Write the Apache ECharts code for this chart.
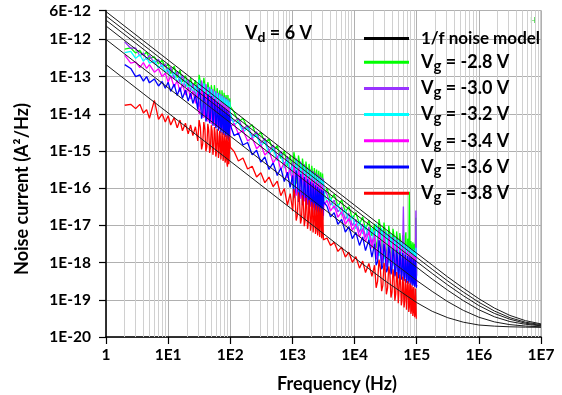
<!DOCTYPE html>
<html><head><meta charset="utf-8">
<script src="https://cdn.jsdelivr.net/npm/echarts@6/dist/echarts.min.js"></script>
<style>html,body{margin:0;padding:0;background:#fff}#c{width:562px;height:395px}</style>
</head><body><div id="c"></div>
<script>
// ---- data ----
const freq = [2, 2.5, 3, 3.5, 4, 4.5, 5, 6, 7, 8, 9, 10, 11, 12.5, 14, 15.5, 17, 19, 21, 23, 25, 27.5,
  30, 31.5, 33, 34.5, 36, 37.5, 39, 40.5, 42, 43.5, 45, 46.5, 48, 49.5, 51, 52.5, 54, 55.5, 57, 58.5, 60, 61.5, 63, 64.5, 66, 67.5, 69, 70.5, 72, 73.5, 75, 76.5, 78, 79.5, 81, 82.5, 84, 85.5, 87, 88.5, 90, 91.5, 93, 94.5, 96, 98, 100,
  115, 135, 160, 190, 225, 265, 310, 360, 420, 490, 570, 650, 740, 830, 920,
  1010, 1055, 1100, 1150, 1200, 1250, 1300, 1350, 1400, 1450, 1500, 1550, 1600, 1650, 1700, 1750, 1800, 1850, 1900, 1950, 2000, 2050, 2100, 2150, 2200, 2250, 2300, 2350, 2400, 2450, 2500, 2550, 2600, 2650, 2700, 2750, 2800, 2850, 2900, 2950, 3000, 3050, 3100, 3150, 3200,
  3600, 4100, 4700, 5400, 6200, 7100, 8100, 9200, 10500, 12000, 13500, 15000, 17000, 19000,
  21000, 22250, 23500, 24750, 26000, 27250, 28500, 29750, 31000, 32500, 34000, 35500, 37000, 38500, 40000, 41500, 43000, 44500, 46000, 47500, 49000, 50500, 52000, 53500, 55000, 56500, 58000, 59500, 61000, 62500, 64000, 65500, 67000, 68500, 70000, 71500, 73000, 74500, 76000, 77500, 79000, 80500, 82000, 83500, 85000, 86500, 88000, 89500, 91000, 92500, 94000, 95500, 97000, 98500, 100000];

const vgM28 = [5.5e-13, 5.9e-13, 4.3e-13, 5.1e-13, 3.7e-13, 4.6e-13, 3.1e-13, 3.4e-13, 2.2e-13, 2.75e-13, 1.8e-13, 2.2e-13, 1.2e-13, 1.9e-13, 9.5e-14, 1.5e-13, 7.2e-14, 1.07e-13, 5.5e-14, 9.1e-14, 5.0e-14, 7.9e-14,
  3.2e-14, 1.12e-13, 7.1e-14, 1.74e-14, 2.6e-14, 9.3e-14, 5.8e-14, 1.45e-14, 2.0e-14, 7.1e-14, 5.0e-14, 1.1e-14, 1.6e-14, 5.9e-14, 4.0e-14, 1.0e-14, 1.3e-14, 5.9e-14, 3.6e-14, 9.3e-15, 1.3e-14, 4.9e-14, 3.5e-14, 7.8e-15, 1.15e-14, 4.3e-14, 2.9e-14, 7.4e-15, 9.8e-15, 4.3e-14, 2.8e-14, 7.1e-15, 1.0e-14, 3.7e-14, 2.7e-14, 5.9e-15, 8.3e-15, 3.2e-14, 2.2e-14, 5.6e-15, 7.9e-15, 3.2e-14, 2.2e-14, 5.4e-15, 7.6e-15, 2.6e-14, 1.6e-14,
  1.12e-14, 6.0e-15, 7.6e-15, 4.1e-15, 5.1e-15, 2.5e-15, 3.2e-15, 1.7e-15, 2.1e-15, 1.0e-15, 1.4e-15, 6.3e-16, 1.02e-15, 4.0e-16, 7.6e-16,
  2.5e-16, 9.3e-16, 6.3e-16, 1.32e-16, 1.9e-16, 7.6e-16, 5.1e-16, 1.1e-16, 1.5e-16, 6.3e-16, 4.0e-16, 9.1e-17, 1.23e-16, 5.2e-16, 3.5e-16, 7.6e-17, 1.12e-16, 4.5e-16, 3.0e-16, 6.8e-17, 9.3e-17, 4.0e-16, 2.6e-16, 6.0e-17, 8.9e-17, 3.5e-16, 2.5e-16, 5.4e-17, 8.3e-17, 3.2e-16, 2.1e-16, 4.9e-17, 6.8e-17, 2.95e-16, 2.0e-16, 4.5e-17, 6.6e-17, 2.7e-16, 1.66e-16, 4.1e-17, 5.8e-17, 2.5e-16, 1.6e-16, 3.8e-17, 6.6e-17,
  9.8e-17, 4.9e-17, 6.8e-17, 3.3e-17, 4.8e-17, 2.3e-17, 3.2e-17, 1.55e-17, 2.2e-17, 1.07e-17, 1.7e-17, 7.8e-18, 1.38e-17, 5.2e-18,
  1.1e-17, 2.45e-18, 3.8e-18, 1.48e-17, 8.9e-18, 1.9e-18, 3.0e-18, 1.2e-17, 7.2e-18, 1.55e-18, 2.3e-18, 9.8e-18, 5.6e-18, 1.3e-18, 1.95e-18, 8.1e-18, 5.2e-18, 1.1e-18, 1.74e-18, 6.9e-18, 4.3e-18, 9.3e-19, 1.45e-18, 6.2e-18, 4.0e-18, 8.3e-19, 1.35e-18, 5.4e-18, 3.5e-18, 7.4e-19, 1.15e-18, 4.9e-18, 6.5e-18, 6.8e-19, 1.1e-18, 4.4e-18, 3.2e-18, 6.0e-19, 8.0e-17, 4.0e-18, 9.3e-19, 3.8e-18, 2.9e-18, 5.4e-19, 7.8e-19, 3.5e-18, 3.0e-18, 4.9e-19, 7.1e-19, 3.2e-18, 2.5e-18, 4.6e-19, 1.6e-17, 4.4e-19, 7.1e-19];

const vgM30 = [8.7e-13, 5.8e-13, 5.9e-13, 3.6e-13, 4.3e-13, 2.9e-13, 3.7e-13, 2.3e-13, 2.9e-13, 1.8e-13, 2.2e-13, 1.26e-13, 1.8e-13, 8.9e-14, 1.4e-13, 7.1e-14, 1.12e-13, 5.2e-14, 8.3e-14, 4.0e-14, 6.6e-14, 3.0e-14,
  6.3e-14, 1.55e-14, 2.2e-14, 7.9e-14, 5.0e-14, 1.23e-14, 1.66e-14, 6.3e-14, 4.2e-14, 9.8e-15, 1.4e-14, 5.2e-14, 3.5e-14, 8.5e-15, 1.2e-14, 4.6e-14, 2.95e-14, 7.4e-15, 1.0e-14, 4.1e-14, 2.75e-14, 6.8e-15, 1.0e-14, 3.7e-14, 2.6e-14, 6.2e-15, 8.7e-15, 3.4e-14, 2.2e-14, 5.6e-15, 7.6e-15, 3.1e-14, 2.1e-14, 5.1e-15, 7.6e-15, 2.8e-14, 2.0e-14, 4.7e-15, 6.6e-15, 2.6e-14, 1.66e-14, 4.3e-15, 5.8e-15, 2.3e-14, 1.5e-14, 3.9e-15, 7.1e-15,
  6.2e-15, 7.6e-15, 3.8e-15, 4.9e-15, 2.45e-15, 3.3e-15, 1.6e-15, 2.2e-15, 1.02e-15, 1.45e-15, 6.5e-16, 1.0e-15, 4.1e-16, 7.2e-16, 2.75e-16,
  5.0e-16, 1.12e-16, 1.7e-16, 6.3e-16, 4.4e-16, 9.1e-17, 1.35e-16, 5.2e-16, 3.6e-16, 7.6e-17, 1.07e-16, 4.4e-16, 2.8e-16, 6.3e-17, 8.7e-17, 3.6e-16, 2.8e-16, 5.4e-17, 7.9e-17, 3.2e-16, 2.2e-16, 4.8e-17, 6.9e-17, 2.9e-16, 1.8e-16, 4.3e-17, 5.8e-17, 2.6e-16, 1.7e-16, 3.9e-17, 5.6e-17, 2.35e-16, 1.55e-16, 3.5e-17, 4.8e-17, 2.1e-16, 1.32e-16, 3.2e-17, 4.6e-17, 1.95e-16, 1.23e-16, 3.0e-17, 4.4e-17, 1.8e-16, 9.3e-17,
  6.9e-17, 3.5e-17, 4.8e-17, 2.3e-17, 3.1e-17, 1.45e-17, 2.1e-17, 9.8e-18, 1.45e-17, 6.5e-18, 1.1e-17, 4.8e-18, 9.1e-18, 3.2e-18,
  6.9e-18, 1.62e-18, 2.3e-18, 8.9e-18, 5.4e-18, 1.26e-18, 1.8e-18, 7.2e-18, 4.6e-18, 1.02e-18, 1.55e-18, 5.9e-18, 3.9e-18, 8.5e-19, 1.3e-18, 4.9e-18, 3.2e-18, 7.2e-19, 1.05e-18, 4.2e-18, 2.9e-18, 6.2e-19, 9.5e-19, 3.7e-18, 2.4e-18, 5.5e-19, 8.1e-19, 3.2e-18, 3.2e-17, 2.8e-18, 7.6e-19, 2.95e-18, 2.0e-18, 4.5e-19, 6.6e-19, 2.6e-18, 1.8e-18, 4.0e-19, 6.2e-19, 2.4e-18, 1.66e-18, 3.6e-19, 5.5e-19, 2.2e-18, 1.38e-18, 3.4e-19, 5.0e-19, 2.0e-18, 1.4e-18, 3.1e-19, 4.9e-19, 1.9e-18, 2.5e-17, 1.8e-18, 4.5e-19];

const vgM32 = [4.4e-13, 4.8e-13, 3.1e-13, 3.9e-13, 2.6e-13, 3.3e-13, 2.3e-13, 2.7e-13, 1.7e-13, 2.1e-13, 1.3e-13, 1.66e-13, 9.3e-14, 1.35e-13, 6.8e-14, 1.07e-13, 5.2e-14, 8.3e-14, 4.3e-14, 6.9e-14, 3.5e-14, 5.8e-14,
  2.45e-14, 8.3e-14, 5.2e-14, 1.3e-14, 1.86e-14, 6.6e-14, 4.1e-14, 1.02e-14, 1.4e-14, 5.2e-14, 3.5e-14, 8.5e-15, 1.26e-14, 4.6e-14, 3.2e-14, 7.4e-15, 1.05e-14, 4.0e-14, 2.6e-14, 6.6e-15, 8.9e-15, 3.6e-14, 2.45e-14, 6.0e-15, 8.9e-15, 3.3e-14, 2.3e-14, 5.5e-15, 7.8e-15, 3.0e-14, 1.95e-14, 5.0e-15, 6.8e-15, 2.75e-14, 1.86e-14, 4.6e-15, 6.8e-15, 2.5e-14, 1.8e-14, 4.2e-15, 5.9e-15, 2.3e-14, 1.5e-14, 3.8e-15, 5.1e-15, 2.1e-14, 1.05e-14,
  5.0e-15, 6.2e-15, 3.2e-15, 4.2e-15, 2.2e-15, 2.7e-15, 1.35e-15, 1.8e-15, 8.3e-16, 1.17e-15, 5.5e-16, 8.3e-16, 3.5e-16, 5.9e-16, 2.2e-16,
  4.3e-16, 1.0e-16, 1.38e-16, 5.6e-16, 3.5e-16, 8.1e-17, 1.1e-16, 4.7e-16, 3.1e-16, 6.8e-17, 9.8e-17, 3.9e-16, 2.6e-16, 5.6e-17, 7.8e-17, 3.2e-16, 2.1e-16, 4.8e-17, 6.6e-17, 2.9e-16, 1.95e-16, 4.3e-17, 6.3e-17, 2.6e-16, 1.8e-16, 3.8e-17, 5.4e-17, 2.3e-16, 1.5e-16, 3.5e-17, 4.8e-17, 2.1e-16, 1.35e-16, 3.2e-17, 4.7e-17, 1.9e-16, 1.32e-16, 2.9e-17, 4.1e-17, 1.74e-16, 1.12e-16, 2.7e-17, 4.0e-17, 1.6e-16, 7.9e-17,
  4.2e-17, 5.5e-17, 2.75e-17, 3.7e-17, 1.86e-17, 2.6e-17, 1.26e-17, 1.8e-17, 8.1e-18, 1.32e-17, 5.9e-18, 1.02e-17, 3.9e-18, 8.5e-18,
  2.8e-18, 1.1e-17, 6.5e-18, 1.5e-18, 2.2e-18, 8.5e-18, 5.4e-18, 1.23e-18, 1.86e-18, 6.9e-18, 4.6e-18, 1.0e-18, 1.45e-18, 5.8e-18, 3.5e-18, 8.3e-19, 1.17e-18, 4.9e-18, 3.1e-18, 7.1e-19, 1.1e-18, 4.2e-18, 2.8e-18, 6.3e-19, 9.3e-19, 3.7e-18, 2.3e-18, 5.5e-19, 7.8e-19, 3.3e-18, 2.1e-18, 5.0e-19, 7.8e-19, 3.0e-18, 2.0e-18, 4.5e-19, 6.6e-19, 2.7e-18, 2.6e-18, 4.1e-19, 6.3e-19, 2.45e-18, 1.7e-18, 3.8e-19, 5.6e-19, 2.3e-18, 1.5e-18, 3.5e-19, 4.9e-19, 2.1e-18, 1.32e-18, 3.2e-19, 2.5e-18, 3.6e-19, 4.8e-19];

const vgM34 = [3.8e-13, 2.3e-13, 2.5e-13, 1.74e-13, 2.4e-13, 1.66e-13, 2.1e-13, 1.32e-13, 1.62e-13, 1.0e-13, 1.23e-13, 7.1e-14, 1.05e-13, 5.2e-14, 7.9e-14, 3.9e-14, 6.5e-14, 3.2e-14, 5.2e-14, 2.5e-14, 4.2e-14, 1.9e-14,
  4.0e-14, 9.8e-15, 1.4e-14, 5.0e-14, 3.3e-14, 7.8e-15, 1.1e-14, 4.0e-14, 2.6e-14, 6.2e-15, 8.5e-15, 3.3e-14, 2.1e-14, 5.4e-15, 7.2e-15, 2.9e-14, 1.95e-14, 4.7e-15, 6.9e-15, 2.6e-14, 1.8e-14, 4.3e-15, 6.0e-15, 2.3e-14, 1.5e-14, 3.9e-15, 5.2e-15, 2.1e-14, 1.45e-14, 3.5e-15, 5.2e-15, 1.95e-14, 1.38e-14, 3.2e-15, 4.6e-15, 1.8e-14, 1.15e-14, 2.95e-15, 4.0e-15, 1.6e-14, 1.1e-14, 2.7e-15, 4.0e-15, 1.5e-14, 1.05e-14, 2.45e-15, 4.5e-15,
  5.6e-15, 2.9e-15, 3.6e-15, 1.86e-15, 2.3e-15, 1.15e-15, 1.5e-15, 7.8e-16, 1.02e-15, 4.8e-16, 7.1e-16, 3.1e-16, 5.0e-16, 1.9e-16, 3.6e-16,
  1.2e-16, 4.5e-16, 2.8e-16, 6.3e-17, 8.7e-17, 3.6e-16, 2.3e-16, 5.2e-17, 7.1e-17, 3.0e-16, 2.0e-16, 4.4e-17, 6.3e-17, 2.5e-16, 1.7e-16, 3.6e-17, 5.1e-17, 2.1e-16, 1.38e-16, 3.2e-17, 4.5e-17, 1.9e-16, 1.3e-16, 2.9e-17, 4.3e-17, 1.7e-16, 1.17e-16, 2.6e-17, 3.6e-17, 1.55e-16, 1.0e-16, 2.35e-17, 3.2e-17, 1.4e-16, 9.5e-17, 2.1e-17, 3.2e-17, 1.3e-16, 8.9e-17, 1.95e-17, 2.75e-17, 1.2e-16, 7.8e-17, 1.8e-17, 3.5e-17,
  4.7e-17, 2.45e-17, 3.4e-17, 1.66e-17, 2.3e-17, 1.07e-17, 1.55e-17, 7.4e-18, 1.1e-17, 4.9e-18, 8.3e-18, 3.6e-18, 6.9e-18, 2.4e-18,
  5.5e-18, 1.23e-18, 1.8e-18, 6.8e-18, 4.3e-18, 9.5e-19, 1.38e-18, 5.5e-18, 3.3e-18, 7.8e-19, 1.07e-18, 4.5e-18, 2.8e-18, 6.5e-19, 9.8e-19, 3.7e-18, 2.5e-18, 5.5e-19, 7.9e-19, 3.2e-18, 1.95e-18, 4.7e-19, 6.6e-19, 2.8e-18, 1.8e-18, 4.2e-19, 6.5e-19, 2.45e-18, 1.66e-18, 3.7e-19, 5.5e-19, 2.2e-18, 1.38e-18, 3.4e-19, 4.8e-19, 2.0e-18, 1.3e-18, 3.0e-19, 4.7e-19, 1.8e-18, 1.23e-18, 2.75e-19, 4.2e-19, 1.7e-18, 1.05e-18, 2.6e-19, 3.6e-19, 1.55e-18, 1.0e-18, 2.35e-19, 3.7e-19, 1.45e-18, 1.0e-18, 2.2e-19, 3.4e-19];

const vgM36 = [2.1e-13, 1.66e-13, 1.0e-13, 1.12e-13, 7.6e-14, 1.0e-13, 6.8e-14, 8.7e-14, 5.6e-14, 7.4e-14, 4.9e-14, 7.1e-14, 4.0e-14, 6.3e-14, 3.1e-14, 5.1e-14, 2.6e-14, 4.4e-14, 2.2e-14, 3.6e-14, 1.9e-14, 3.2e-14,
  1.3e-14, 4.7e-14, 2.95e-14, 7.4e-15, 1.0e-14, 3.8e-14, 2.4e-14, 6.2e-15, 8.3e-15, 3.4e-14, 2.3e-14, 5.6e-15, 7.9e-15, 3.0e-14, 2.1e-14, 4.8e-15, 6.9e-15, 2.5e-14, 1.66e-14, 4.1e-15, 5.4e-15, 2.1e-14, 1.38e-14, 3.5e-15, 4.8e-15, 1.86e-14, 1.3e-14, 3.0e-15, 4.5e-15, 1.66e-14, 1.1e-14, 2.7e-15, 3.6e-15, 1.48e-14, 9.3e-15, 2.4e-15, 3.4e-15, 1.32e-14, 9.1e-15, 2.1e-15, 3.2e-15, 1.17e-14, 7.8e-15, 1.9e-15, 2.5e-15, 1.0e-14, 5.0e-15,
  2.6e-15, 3.0e-15, 1.45e-15, 1.7e-15, 7.9e-16, 1.05e-15, 5.0e-16, 6.9e-16, 3.2e-16, 4.8e-16, 2.2e-16, 3.5e-16, 1.5e-16, 2.7e-16, 1.05e-16,
  2.2e-16, 5.4e-17, 7.6e-17, 3.0e-16, 1.95e-16, 4.3e-17, 6.0e-17, 2.4e-16, 1.6e-16, 3.5e-17, 4.8e-17, 2.0e-16, 1.3e-16, 3.0e-17, 4.0e-17, 1.74e-16, 1.15e-16, 2.5e-17, 3.7e-17, 1.5e-16, 1.02e-16, 2.2e-17, 3.2e-17, 1.35e-16, 8.5e-17, 2.0e-17, 2.75e-17, 1.2e-16, 8.1e-17, 1.8e-17, 2.7e-17, 1.1e-16, 7.4e-17, 1.6e-17, 2.3e-17, 9.8e-17, 6.3e-17, 1.5e-17, 2.1e-17, 9.1e-17, 6.2e-17, 1.38e-17, 2.0e-17, 8.5e-17, 4.2e-17,
  3.3e-17, 1.7e-17, 2.2e-17, 1.07e-17, 1.45e-17, 6.6e-18, 9.3e-18, 4.4e-18, 6.5e-18, 2.9e-18, 4.9e-18, 2.1e-18, 4.1e-18, 1.4e-18,
  3.2e-18, 8.5e-19, 1.07e-18, 4.0e-18, 2.5e-18, 6.6e-19, 8.1e-19, 3.2e-18, 1.95e-18, 5.5e-19, 6.6e-19, 2.75e-18, 1.8e-18, 4.8e-19, 6.3e-19, 2.4e-18, 1.6e-18, 4.3e-19, 5.4e-19, 2.2e-18, 1.35e-18, 3.8e-19, 4.6e-19, 1.95e-18, 1.26e-18, 3.5e-19, 4.6e-19, 1.8e-18, 1.2e-18, 3.2e-19, 4.0e-19, 1.62e-18, 1.0e-18, 2.9e-19, 3.5e-19, 1.5e-18, 9.8e-19, 2.7e-19, 3.6e-19, 1.4e-18, 1.1e-18, 2.5e-19, 3.2e-19, 1.32e-18, 8.3e-19, 2.4e-19, 2.9e-19, 1.23e-18, 8.1e-19, 2.25e-19, 3.0e-19, 1.17e-18, 7.6e-19, 2.1e-19, 2.5e-19];

const vgM38 = [1.7e-14, 1.8e-14, 1.38e-14, 1.8e-14, 1.05e-14, 1.3e-14, 7.6e-15, 2.3e-14, 7.1e-15, 1.0e-14, 6.0e-15, 8.9e-15, 5.0e-15, 7.9e-15, 4.2e-15, 6.8e-15, 3.5e-15, 5.6e-15, 2.9e-15, 5.0e-15, 2.6e-15, 4.5e-15,
  1.86e-15, 6.8e-15, 4.4e-15, 1.1e-15, 1.55e-15, 6.0e-15, 3.8e-15, 9.8e-16, 1.32e-15, 5.4e-15, 3.6e-15, 8.9e-16, 1.26e-15, 4.9e-15, 3.5e-15, 7.9e-16, 1.17e-15, 4.4e-15, 2.95e-15, 7.1e-16, 9.5e-16, 3.9e-15, 2.5e-15, 6.5e-16, 9.1e-16, 3.5e-15, 2.5e-15, 5.9e-16, 8.7e-16, 3.2e-15, 2.2e-15, 5.4e-16, 7.2e-16, 2.95e-15, 1.9e-15, 4.9e-16, 5.8e-16, 2.7e-15, 1.8e-15, 4.6e-16, 3.8e-16, 2.6e-15, 1.66e-15, 4.4e-16, 5.9e-16, 2.45e-15, 1.26e-15,
  9.8e-16, 5.4e-16, 6.5e-16, 3.3e-16, 3.9e-16, 2.0e-16, 2.6e-16, 1.41e-16, 2.0e-16, 1.1e-16, 1.55e-16, 6.3e-17, 9.8e-17, 3.5e-17, 7.2e-17,
  2.4e-17, 9.5e-17, 6.3e-17, 1.35e-17, 1.86e-17, 7.8e-17, 4.9e-17, 1.12e-17, 1.5e-17, 6.5e-17, 4.4e-17, 9.5e-18, 1.38e-17, 5.5e-17, 3.8e-17, 8.1e-18, 1.15e-17, 4.9e-17, 3.2e-17, 7.2e-18, 1.0e-17, 4.3e-17, 2.9e-17, 6.5e-18, 9.5e-18, 3.9e-17, 2.7e-17, 5.9e-18, 7.2e-18, 3.5e-17, 2.3e-17, 5.4e-18, 7.4e-18, 3.2e-17, 2.2e-17, 4.9e-18, 4.8e-18, 2.95e-17, 2.0e-17, 4.5e-18, 5.5e-18, 2.7e-17, 1.66e-17, 4.1e-18, 4.5e-18,
  4.6e-18, 2.9e-18, 3.5e-18, 2.0e-18, 2.6e-18, 1.41e-18, 1.9e-18, 1.02e-18, 1.45e-18, 7.1e-19, 1.1e-18, 5.4e-19, 9.5e-19, 4.3e-19,
  8.5e-19, 2.1e-19, 3.2e-19, 1.2e-18, 7.1e-19, 1.7e-19, 2.45e-19, 9.8e-19, 6.2e-19, 1.41e-19, 2.1e-19, 7.9e-19, 5.0e-19, 1.15e-19, 1.6e-19, 6.6e-19, 4.2e-19, 9.5e-20, 1.45e-19, 5.6e-19, 3.7e-19, 8.1e-20, 8.9e-20, 4.8e-19, 3.0e-19, 7.1e-20, 9.8e-20, 4.2e-19, 2.8e-19, 6.2e-20, 9.3e-20, 3.6e-19, 2.5e-19, 5.4e-20, 5.1e-20, 3.2e-19, 2.4e-19, 4.7e-20, 6.3e-20, 2.75e-19, 2.4e-19, 4.2e-20, 5.0e-20, 2.45e-19, 1.9e-19, 3.7e-20, 5.1e-20, 2.2e-19, 1.95e-19, 3.4e-20, 4.2e-20, 2.0e-19, 1.8e-19, 3.1e-20, 3.0e-20];

// 1/f noise model curves
const modelFreq = [1, 1e4, 31620, 1e5, 177800, 316200, 562300, 1e6, 1778000, 3162000, 5623000, 1e7];
const model1 = [5.6e-12, 3.5e-17, 7.9e-18, 1.79e-18, 8.6e-19, 4.1e-19, 2.06e-19, 1.07e-19, 6.0e-20, 3.8e-20, 2.75e-20, 2.25e-20];
const model2 = [4.3e-12, 2.7e-17, 6.1e-18, 1.38e-18, 6.6e-19, 3.2e-19, 1.62e-19, 8.6e-20, 5.0e-20, 3.3e-20, 2.5e-20, 2.15e-20];
const model3 = [3.3e-12, 2.1e-17, 4.7e-18, 1.06e-18, 5.1e-19, 2.5e-19, 1.29e-19, 7.0e-20, 4.3e-20, 3.0e-20, 2.35e-20, 2.05e-20];
const model4 = [2.3e-12, 1.45e-17, 3.3e-18, 7.5e-19, 3.6e-19, 1.8e-19, 9.5e-20, 5.4e-20, 3.5e-20, 2.6e-20, 2.2e-20, 2.0e-20];
const model5 = [1.0e-12, 6.3e-18, 1.43e-18, 3.3e-19, 1.68e-19, 8.9e-20, 5.2e-20, 3.4e-20, 2.55e-20, 2.15e-20, 1.97e-20, 1.88e-20];
const model6 = [2.1e-13, 1.34e-18, 3.15e-19, 8.4e-20, 4.9e-20, 3.3e-20, 2.5e-20, 2.1e-20, 1.96e-20, 1.88e-20, 1.84e-20, 1.82e-20];

const seriesNames = ['Vg = -2.8 V', 'Vg = -3.0 V', 'Vg = -3.2 V', 'Vg = -3.4 V', 'Vg = -3.6 V', 'Vg = -3.8 V'];
const modelName = '1/f noise model';
const xTickLabels = ['1', '1E1', '1E2', '1E3', '1E4', '1E5', '1E6', '1E7'];
const yTickLabels = ['1E-20', '1E-19', '1E-18', '1E-17', '1E-16', '1E-15', '1E-14', '1E-13', '1E-12'];
const yTopLabel = '6E-12';

// ---- styling / chart ----
const FONT = 'Lato, "Open Sans", "DejaVu Sans", sans-serif';
const colors = ['#00FF00', '#9933FF', '#00FFFF', '#FF00FF', '#0000FF', '#FF0000'];
const noiseData = [vgM28, vgM30, vgM32, vgM34, vgM36, vgM38];
const models = [model1, model2, model3, model4, model5, model6];

const minorX = [], minorY = [];
for (let d = 0; d < 7; d++) for (let k = 2; k <= 9; k++) minorX.push({ xAxis: k * Math.pow(10, d) });
for (let d = -20; d < -12; d++) for (let k = 2; k <= 9; k++) minorY.push({ yAxis: k * Math.pow(10, d) });
for (let k = 2; k <= 5; k++) minorY.push({ yAxis: k * 1e-12 });

const series = [];
series.push({
  type: 'line', name: '_grid', data: [], silent: true, z: 1,
  markLine: {
    z: 1, silent: true, symbol: ['none', 'none'], label: { show: false }, animation: false,
    emphasis: { disabled: true },
    lineStyle: { color: '#d0d0d0', width: 1, type: 'solid' },
    data: minorX.concat(minorY)
  }
});
noiseData.forEach((arr, i) => {
  series.push({
    type: 'line', name: seriesNames[i], z: 2 + i * 0.01,
    data: freq.map((f, j) => [f, arr[j]]),
    showSymbol: false, symbol: 'none', color: colors[i],
    lineStyle: { color: colors[i], width: 1.3 },
    emphasis: { disabled: true }
  });
});
models.forEach((arr) => {
  series.push({
    type: 'line', name: modelName, z: 3,
    data: modelFreq.map((f, j) => [f, arr[j]]),
    showSymbol: false, symbol: 'none', color: '#000',
    lineStyle: { color: '#1a1a1a', width: 1 },
    emphasis: { disabled: true }
  });
});

const boldTxt = { fontFamily: FONT, fontWeight: 'bold', color: '#000' };
const legendColors = ['#000000'].concat(colors);
const chart = echarts.init(document.getElementById('c'), null, { renderer: 'canvas', width: 562, height: 395 });
chart.setOption({
  animation: false,
  backgroundColor: '#fff',
  grid: { left: 106, right: 21, top: 10.5, bottom: 58, show: true, borderColor: '#9a9a9a', borderWidth: 1, containLabel: false },
  title: {
    text: '{v|V}{s|d}{v| = 6 V}', left: 245, top: 22, padding: 0,
    textStyle: { rich: {
      v: Object.assign({ fontSize: 18, lineHeight: 22 }, boldTxt),
      s: Object.assign({ fontSize: 14, lineHeight: 12, verticalAlign: 'bottom' }, boldTxt)
    } }
  },
  legend: {
    orient: 'vertical', left: 364, top: 30, padding: 0, z: 6,
    itemWidth: 45, itemHeight: 3, itemGap: 6.2, selectedMode: false,
    icon: 'path://M0,0L45,0L45,3L0,3Z',
    itemStyle: { borderWidth: 0 },
    data: [modelName].concat(seriesNames).map((n, i) => ({ name: n, itemStyle: { color: legendColors[i], borderWidth: 0, opacity: 1 } })),
    formatter: (name) => name.startsWith('Vg')
      ? '{sp| }{v|V}{s|g}{v|' + name.slice(2) + '}'
      : '{sp| }{m|' + name + '}',
    textStyle: {
      rich: {
        sp: { width: 7, fontSize: 10, lineHeight: 22 },
        v: Object.assign({ fontSize: 18, lineHeight: 22 }, boldTxt),
        m: Object.assign({ fontSize: 17, lineHeight: 22 }, boldTxt),
        s: Object.assign({ fontSize: 15, lineHeight: 4, verticalAlign: 'bottom' }, boldTxt)
      }
    }
  },
  xAxis: {
    type: 'log', logBase: 10, min: 1, max: 1e7,
    axisLine: { show: true, onZero: false, lineStyle: { color: '#000', width: 1.5 } },
    axisTick: { show: true, inside: false, length: 7, lineStyle: { color: '#000', width: 1.2 } },
    axisLabel: Object.assign({ fontSize: 15.5, margin: 10, showMinLabel: true, showMaxLabel: true,
      formatter: (v) => xTickLabels[Math.round(Math.log10(v))] }, boldTxt),
    splitLine: { show: true, lineStyle: { color: '#b0b0b0', width: 1 } }
  },
  yAxis: {
    type: 'log', logBase: 10, min: 1e-20, max: 6e-12,
    axisLine: { show: true, onZero: false, lineStyle: { color: '#000', width: 1.5 } },
    axisTick: { show: true, inside: false, length: 7, lineStyle: { color: '#000', width: 1.2 } },
    axisLabel: Object.assign({ fontSize: 15.5, margin: 15, showMinLabel: true, showMaxLabel: true,
      formatter: (v) => v > 2e-12 ? yTopLabel : yTickLabels[Math.round(Math.log10(v)) + 20] }, boldTxt),
    splitLine: { show: true, lineStyle: { color: '#b0b0b0', width: 1 } }
  },
  graphic: [
    { type: 'text', x: 22, y: 189, rotation: Math.PI / 2, silent: true,
      style: { text: 'Noise current (A²/Hz)', font: 'bold 18px ' + FONT, fill: '#000', textAlign: 'center', textVerticalAlign: 'middle', verticalAlign: 'middle' } },
    { type: 'text', x: 337, y: 384, silent: true,
      style: { text: 'Frequency (Hz)', font: 'bold 18px ' + FONT, fill: '#000', textAlign: 'center', textVerticalAlign: 'middle', verticalAlign: 'middle' } },
    { type: 'text', x: 533, y: 21, silent: true,
      style: { text: 'H', font: '7px ' + FONT, fill: '#33cc33', textAlign: 'center', textVerticalAlign: 'middle', verticalAlign: 'middle' } }
  ],
  series: series
});
</script>
</body></html>
